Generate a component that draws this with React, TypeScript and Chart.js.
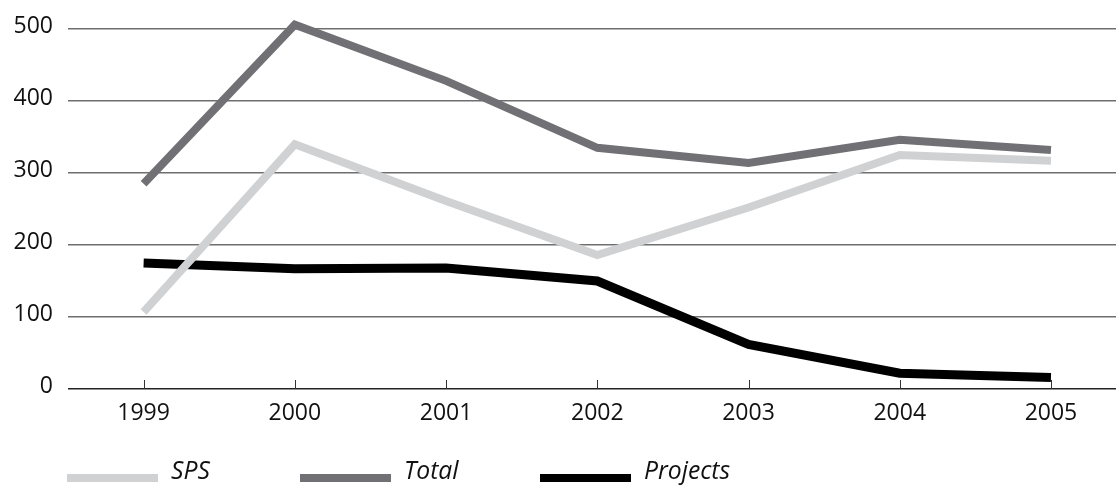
import React, { useEffect, useRef } from "react";
import { Chart, registerables } from "chart.js";

Chart.register(...registerables);

const years = [1999, 2000, 2001, 2002, 2003, 2004, 2005];
const spsValues = [107, 340, 261, 186, 252, 325, 317];
const totalValues = [285, 506, 428, 335, 314, 346, 332];
const projectsValues = [175, 167, 168, 150, 62, 22, 16];
const yTicks = [0, 100, 200, 300, 400, 500];

const legendItems = [
  { label: "SPS", color: "#d0d1d3", box: 67, text: 171 },
  { label: "Total", color: "#717175", box: 300, text: 404 },
  { label: "Projects", color: "#000000", box: 540, text: 644 },
];

const upTicks = {
  id: "upTicks",
  beforeDatasetsDraw(chart: any) {
    const xs = chart.scales.x;
    const ctx = chart.ctx;
    const bottom = chart.chartArea.bottom;
    ctx.save();
    ctx.strokeStyle = "#333";
    ctx.lineWidth = 1;
    xs.ticks.forEach((t: any) => {
      const px = Math.round(xs.getPixelForValue(t.value)) + 0.5;
      ctx.beginPath();
      ctx.moveTo(px, bottom - 9);
      ctx.lineTo(px, bottom);
      ctx.stroke();
    });
    ctx.restore();
  },
};

export default function App() {
  const ref = useRef<HTMLCanvasElement | null>(null);
  useEffect(() => {
    if (!ref.current) return;
    const toPts = (vals: number[]) => years.map((y, i) => ({ x: y, y: vals[i] }));
    const chart = new Chart(ref.current, {
      type: "line",
      data: {
        datasets: [
          { label: "SPS", data: toPts(spsValues), borderColor: "#d0d1d3", borderWidth: 8, pointRadius: 0, clip: false as any },
          { label: "Total", data: toPts(totalValues), borderColor: "#717175", borderWidth: 8, pointRadius: 0, clip: false as any },
          { label: "Projects", data: toPts(projectsValues), borderColor: "#000000", borderWidth: 9, pointRadius: 0, clip: false as any },
        ],
      },
      options: {
        animation: false,
        responsive: true,
        maintainAspectRatio: false,
        layout: { padding: { top: 29, right: 0, left: 0, bottom: 0 } },
        plugins: { legend: { display: false }, tooltip: { enabled: false } },
        scales: {
          x: {
            type: "linear",
            min: 1998.5,
            max: 2005.43,
            afterBuildTicks: (scale: any) => {
              scale.ticks = years.map((v) => ({ value: v }));
            },
            afterFit: (scale: any) => {
              scale.height = 98;
            },
            grid: { display: false, drawTicks: false },
            border: { display: false },
            ticks: {
              padding: 11,
              color: "#111",
              font: { family: "'Open Sans'", size: 23 },
              callback: (v: any) => String(v),
            },
          },
          y: {
            min: 0,
            max: 500,
            afterBuildTicks: (scale: any) => {
              scale.ticks = yTicks.map((v) => ({ value: v }));
            },
            afterFit: (scale: any) => {
              scale.width = 68;
            },
            grid: {
              drawTicks: false,
              color: (c: any) => (c.tick && c.tick.value === 0 ? "#222" : "#6f6f6f"),
              lineWidth: 1.5,
            },
            border: { display: false },
            ticks: {
              padding: 15,
              labelOffset: -3,
              color: "#111",
              font: { family: "'Open Sans'", size: 23 },
            },
          },
        },
      },
      plugins: [upTicks],
    });
    return () => chart.destroy();
  }, []);

  return (
    <div style={{ position: "fixed", left: 0, top: 0, width: 1116, height: 487, background: "#fff" }}>
      <canvas ref={ref} />
      {legendItems.map((it) => (
        <React.Fragment key={it.label}>
          <div style={{ position: "absolute", left: it.box, top: 474, width: 91, height: 8, background: it.color }} />
          <div
            style={{
              position: "absolute",
              left: it.text,
              top: 456,
              fontFamily: "'Open Sans', sans-serif",
              fontStyle: "italic",
              fontSize: 26,
              lineHeight: "26px",
              color: "#111",
              whiteSpace: "nowrap",
              transform: "scaleX(0.95)",
              transformOrigin: "left center",
            }}
          >
            {it.label}
          </div>
        </React.Fragment>
      ))}
    </div>
  );
}
